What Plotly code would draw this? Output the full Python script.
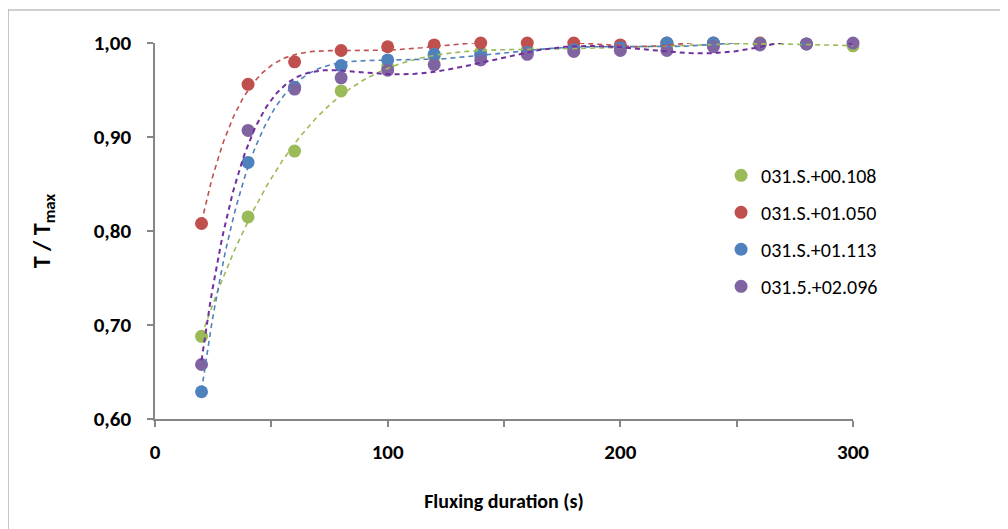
import numpy as np
import plotly.graph_objects as go

# Data
x_green = [20, 40, 60, 80, 100, 120, 140, 160, 180, 200, 220, 240, 260, 280, 300]
y_green = [0.688, 0.815, 0.885, 0.949, 0.975, 0.986, 0.990, 0.993, 0.995, 0.996, 0.997, 0.998, 0.999, 0.999, 0.997]

x_red = [20, 40, 60, 80, 100, 120, 140, 160, 180, 200, 220, 240, 260]
y_red = [0.808, 0.956, 0.980, 0.992, 0.996, 0.998, 1.000, 1.000, 1.000, 0.998, 1.000, 1.000, 1.000]

x_blue = [20, 40, 60, 80, 100, 120, 140, 160, 180, 200, 220, 240, 260, 280]
y_blue = [0.629, 0.873, 0.953, 0.976, 0.982, 0.988, 0.987, 0.990, 0.993, 0.995, 1.000, 1.000, 0.999, 0.999]

x_purple = [20, 40, 60, 80, 100, 120, 140, 160, 180, 200, 220, 240, 260, 280, 300]
y_purple = [0.658, 0.907, 0.951, 0.963, 0.971, 0.977, 0.982, 0.988, 0.991, 0.992, 0.992, 0.996, 0.998, 0.999, 1.000]

names = ["031.S.+00.108", "031.S.+01.050", "031.S.+01.113", "031.5.+02.096"]
marker_colors = ["#9BBB59", "#C0504D", "#4F81BD", "#8064A2"]
line_colors = ["#9BBB59", "#C0504D", "#4F81BD", "#7030A0"]
line_widths = [1.6, 1.6, 1.6, 2.0]

x_tick_vals = [0, 100, 200, 300]
y_tick_vals = [0.6, 0.7, 0.8, 0.9, 1.0]

series = [(x_green, y_green), (x_red, y_red), (x_blue, y_blue), (x_purple, y_purple)]

fig = go.Figure()

for i, (xs, ys) in enumerate(series):
    fig.add_trace(go.Scatter(
        x=xs, y=ys, mode="markers", name=names[i],
        marker=dict(color=marker_colors[i], size=13),
        legendgroup=names[i], cliponaxis=False,
    ))

# polynomial trendlines (order 6), as in the source chart
for i, (xs, ys) in enumerate(series):
    p = np.polynomial.Polynomial.fit(xs, ys, 6)
    xx = np.linspace(min(xs), max(xs), 300)
    fig.add_trace(go.Scatter(
        x=xx, y=p(xx), mode="lines", showlegend=False, hoverinfo="skip",
        line=dict(color=line_colors[i], width=line_widths[i], dash="5px,4px"),
        cliponaxis=False,
    ))

axis_col = "#868686"
font_family = "Carlito, Calibri, Lato, sans-serif"

fig.update_layout(
    width=1008, height=529,
    margin=dict(l=147, r=163, t=35, b=118),
    paper_bgcolor="white", plot_bgcolor="white",
    separators=",.",
    font=dict(family=font_family, color="#000000"),
    showlegend=True,
    legend=dict(
        x=0.811, y=0.70, xanchor="left", yanchor="top",
        font=dict(size=20, family=font_family),
        tracegroupgap=8, bgcolor="rgba(0,0,0,0)",
    ),
    xaxis=dict(
        range=[0, 300], showgrid=False, zeroline=False,
        showline=True, linecolor=axis_col, linewidth=1.5,
        ticks="outside", ticklen=6, tickcolor=axis_col, tickwidth=1.5,
        tickvals=x_tick_vals, ticklabelstandoff=7,
        minor=dict(dtick=50, tick0=0, ticks="outside", ticklen=6, tickcolor=axis_col, tickwidth=1.5),
        tickfont=dict(size=21, family=font_family, weight="bold"),
        title=dict(text="<b>Fluxing duration (s)</b>", font=dict(size=20, family=font_family), standoff=30),
    ),
    yaxis=dict(
        range=[0.6, 1.0], showgrid=False, zeroline=False,
        showline=True, linecolor=axis_col, linewidth=1.5,
        ticks="outside", ticklen=6, tickcolor=axis_col, tickwidth=1.5,
        tickvals=y_tick_vals, tickformat=".2f", ticklabelstandoff=12,
        tickfont=dict(size=21, family=font_family, weight="bold"),
        title=dict(text="<b>T / T<sub>max</sub></b>", font=dict(size=24, family=font_family), standoff=36),
    ),
    shapes=[
        dict(type="line", xref="paper", yref="paper", x0=-0.2106, x1=1.25, y0=1.0878, y1=1.0878,
             line=dict(color="#A0A0A0", width=1.2)),
        dict(type="line", xref="paper", yref="paper", x0=-0.2106, x1=-0.2106, y0=1.0878, y1=-0.4,
             line=dict(color="#A0A0A0", width=1.2)),
    ],
)

fig.write_html("out.html")
